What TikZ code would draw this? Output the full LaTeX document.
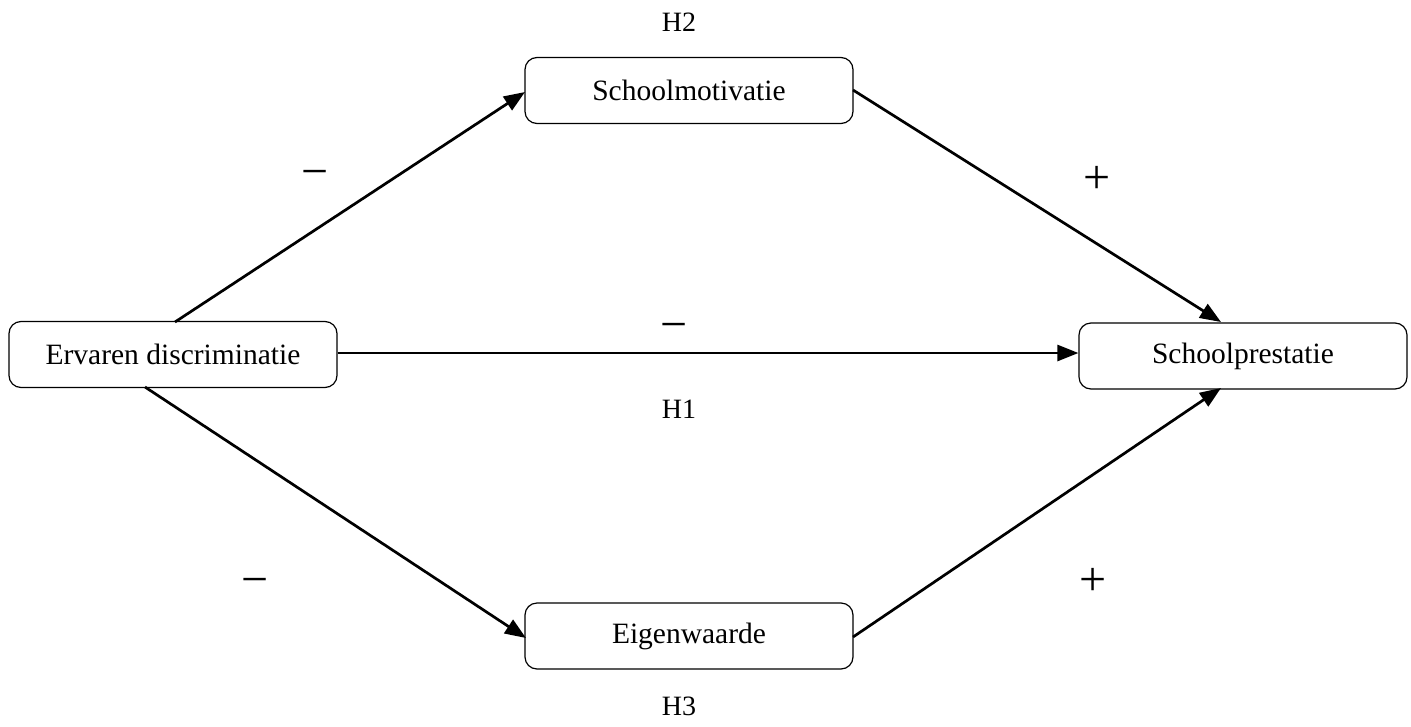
\documentclass[tikz,border=0pt]{standalone}
\usepackage{fontspec}
\setmainfont{Liberation Serif}
\usetikzlibrary{arrows.meta}
\begin{document}
\begin{tikzpicture}[x=1pt,y=-1pt,
  box/.style={draw,line width=1.2pt,rounded corners=12pt,minimum width=328pt,
    minimum height=66pt,inner sep=0pt,font=\fontsize{29.5}{35}\selectfont},
  link/.style={line width=2.7pt,-{Triangle[length=21pt,width=16pt]}},
  sign/.style={inner sep=0pt,font=\fontsize{48}{54}\selectfont},
  hyp/.style={inner sep=0pt,font=\fontsize{28}{33}\selectfont}]
\useasboundingbox (0,0) rectangle (1411,726);
\node[box] (ed) at (173,354.5) {Ervaren discriminatie};
\node[box] (sm) at (689,90.5) {Schoolmotivatie};
\node[box] (ew) at (689,636) {Eigenwaarde};
\node[box] (sp) at (1243,356) {Schoolprestatie};
\coordinate (edtop) at (175,322);
\coordinate (edbot) at (145,387);
\coordinate (smin) at (525,92);
\coordinate (smout) at (853,90);
\coordinate (ewin) at (526,638);
\coordinate (ewout) at (853,637);
\coordinate (sptop) at (1221,322);
\coordinate (spbot) at (1221,388);
\draw[link] (edtop) -- (smin);
\draw[link] (smout) -- (sptop);
\draw[link] (ed.east |- 0,353) -- (sp.west |- 0,353);
\draw[link] (edbot) -- (ewin);
\draw[link] (ewout) -- (spbot);
\node[sign] (m1) at (315,179) {−};
\node[sign] (p1) at (1097,180) {+};
\node[sign] (m2) at (674,332) {−};
\node[sign] (m3) at (255,587) {−};
\node[sign] (p2) at (1093,582) {+};
\node[hyp] (h2) at (679,22) {H2};
\node[hyp] (h1) at (679,409) {H1};
\node[hyp] (h3) at (679,706) {H3};
\end{tikzpicture}
\end{document}
